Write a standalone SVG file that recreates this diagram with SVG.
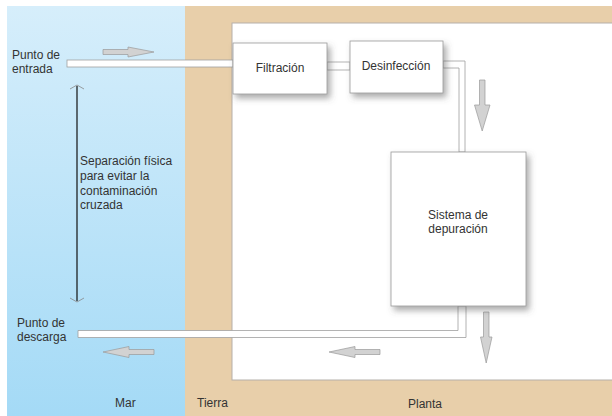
<svg xmlns="http://www.w3.org/2000/svg" width="612" height="416" viewBox="0 0 612 416">
<defs>
<linearGradient id="sea" x1="0" y1="0" x2="0" y2="1">
<stop offset="0" stop-color="#d6eefb"/>
<stop offset="1" stop-color="#a4daf6"/>
</linearGradient>
<filter id="sh" x="-20%" y="-20%" width="150%" height="160%">
<feDropShadow dx="3" dy="4" stdDeviation="3" flood-color="#555" flood-opacity="0.5"/>
</filter>
<style>
text{font-family:"Liberation Sans",Arial,sans-serif;font-size:12px;fill:#333;}
.c{text-anchor:middle;}
.box{fill:#fff;stroke:#999;stroke-width:0.8;}
.pipe{fill:#fff;stroke:#a0a0a0;stroke-width:0.8;}
.garrow{fill:#d2d2d2;stroke:#9a9a9a;stroke-width:0.7;}
.chev{fill:none;stroke:#888;stroke-width:0.8;}
</style>
</defs>
<rect x="0" y="0" width="612" height="416" fill="#fff"/>
<rect x="7" y="6" width="178" height="410" fill="url(#sea)"/>
<rect x="185" y="6" width="427" height="410" fill="#e8cfaa"/>
<rect x="232" y="23" width="381" height="357" fill="#fff" stroke="#b5b0aa" stroke-width="1"/>

<g id="connectors">
<rect class="pipe" x="67" y="60" width="166" height="7"/>
<rect class="pipe" x="327" y="62" width="23" height="8"/>
<path class="pipe" d="M443,61 H465 V152 H459 V68 H443 Z"/>
<path class="pipe" d="M458,306 V330.5 H78 V337.5 H466 V306 Z"/>
<polygon class="garrow" points="103,49.5 128,49.5 128,47 154,52 128,57 128,54.5 103,54.5"/>
<polygon class="garrow" points="154,349.5 129,349.5 129,346.5 103,352 129,357.5 129,354.5 154,354.5"/>
<polygon class="garrow" points="380,349.5 355,349.5 355,346.5 329,352 355,357.5 355,354.5 380,354.5"/>
<polygon class="garrow" points="479.5,80 485,80 485,105 490,105 482.2,131 474.5,105 479.5,105"/>
<polygon class="garrow" points="483.5,312 489,312 489,337 492,337 486.2,363 480.5,337 483.5,337"/>
<line x1="77" y1="86" x2="77" y2="301" stroke="#111" stroke-width="1.2"/>
<polyline class="chev" points="70,89 77,85 84,89"/>
<polyline class="chev" points="70,298 77,302 84,298"/>
</g>

<g id="filtracion">
<rect class="box" x="233" y="43" width="94" height="51" filter="url(#sh)"/>
<text class="c" x="280" y="72">Filtración</text>
</g>
<g id="desinfeccion">
<rect class="box" x="350" y="41" width="93" height="52" filter="url(#sh)"/>
<text class="c" x="396" y="70">Desinfección</text>
</g>
<g id="sistema">
<rect class="box" x="391" y="152" width="135" height="154" filter="url(#sh)"/>
<text class="c" x="458" y="219">Sistema de</text>
<text class="c" x="458" y="233">depuración</text>
</g>

<g id="labels">
<text x="12" y="59">Punto de</text>
<text x="12" y="73">entrada</text>
<text x="80" y="165">Separación física</text>
<text x="80" y="180">para evitar la</text>
<text x="80" y="194.5">contaminación</text>
<text x="80" y="209">cruzada</text>
<text x="17" y="327">Punto de</text>
<text x="17" y="341">descarga</text>
<text x="115" y="407">Mar</text>
<text x="197" y="407">Tierra</text>
<text x="408" y="408">Planta</text>
</g>
</svg>
